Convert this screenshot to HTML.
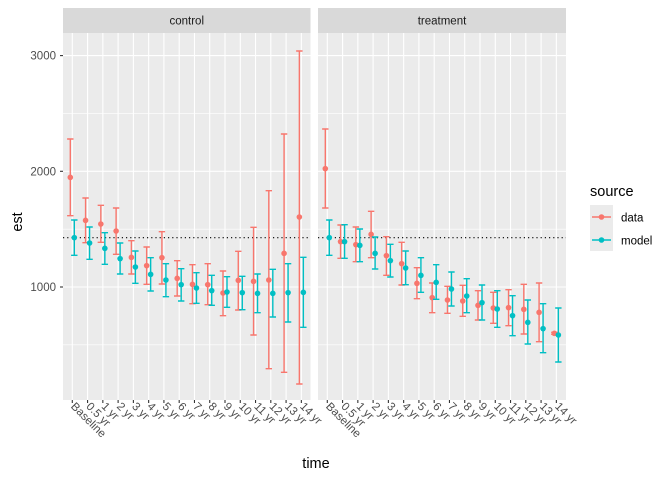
<!DOCTYPE html>
<html><head><meta charset="utf-8"><style>
body{margin:0;background:#fff}
svg text{font-family:"Liberation Sans",sans-serif}
</style></head><body>
<svg id="s" width="672" height="480" xmlns="http://www.w3.org/2000/svg"></svg>
<script>
const s=document.getElementById('s');let h='';
const Y=z=>120+z/3;
const cats=['Baseline','0.5 yr','1 yr','2 yr','3 yr','4 yr','5 yr','6 yr','7 yr','8 yr','9 yr','10 yr','11 yr','12 yr','13 yr','14 yr'];
const panels=[
 {x0:63,x1:310.5,t0:72.3,name:'control',
  d:[[172,57,287],[301,234,368],[312,256,367],[333,264,403],[412,362,462],[437,381,493],[413,335,492],[475,422,528],[493,434,551],[494,431,554],[519,453,587],[481,394,570],[484,322,645],[480,212,746],[400,42,757],[291,-207,792]],
  m:[[353,300,406],[369,321,418],[385,338,433],[416,369,462],[441,393,490],[463,413,513],[480,431,530],[494,446,543],[504,458,550],[512,466,556],[516,470,562],[518,469,569],[520,462,578],[520,448,591],[518,431,606],[517,412,622]]},
 {x0:318,x1:566,t0:327.3,name:'treatment',
  d:[[146,27,264],[365,315,415],[374,321,425],[343,274,413],[407,350,466],[431,367,495],[490,443,536],[533,489,578],[540,499,580],[543,496,589],[556,512,600],[564,517,610],[563,509,617],[568,493,642],[577,489,665],[640,637,643]],
  m:[[353,300,406],[365,314,415],[376,327,425],[400,351,447],[422,373,471],[444,393,494],[466,413,517],[487,434,538],[507,456,558],[528,476,578],[548,495,600],[567,512,622],[587,527,647],[607,540,672],[626,551,698],[645,564,726]]}
];
const sp=15.27;
const yv=v=>287-(v-1000)*0.1157;
panels.forEach(p=>{
 h+=`<rect x="${p.x0}" y="8" width="${p.x1-p.x0}" height="25" fill="#D9D9D9"/>`;
 h+=`<text x="${(p.x0+p.x1)/2}" y="24.5" font-size="11.5" fill="#1a1a1a" text-anchor="middle">${p.name}</text>`;
 h+=`<rect x="${p.x0}" y="33" width="${p.x1-p.x0}" height="367" fill="#EBEBEB"/>`;
 [500,1500,2500].forEach(v=>h+=`<line x1="${p.x0}" x2="${p.x1}" y1="${yv(v)}" y2="${yv(v)}" stroke="#fff" stroke-width="0.6"/>`);
 [1000,2000,3000].forEach(v=>h+=`<line x1="${p.x0}" x2="${p.x1}" y1="${yv(v)}" y2="${yv(v)}" stroke="#fff" stroke-width="1.1"/>`);
 for(let i=0;i<16;i++){const x=p.t0+i*sp;
  h+=`<line x1="${x}" x2="${x}" y1="33" y2="400" stroke="#fff" stroke-width="1.1"/>`;
  h+=`<line x1="${x}" x2="${x}" y1="400" y2="403" stroke="#333" stroke-width="1.1"/>`;
  h+=`<text transform="translate(${x-2},${407}) rotate(45)" font-size="11.5" fill="#4d4d4d">${cats[i]}</text>`;}
 h+=`<line x1="${p.x0}" x2="${p.x1}" y1="237.7" y2="237.7" stroke="#000" stroke-width="1.1" stroke-dasharray="1.2,3"/>`;
 [[p.d,'#F8766D',-2],[p.m,'#00BFC4',2]].forEach(([arr,c,o])=>{
  arr.forEach((r,i)=>{const x=p.t0+i*sp+o;const a=Y(r[1]),b=Y(r[2]);
   h+=`<path d="M${x-3.2} ${a}H${x+3.2}M${x} ${a}V${b}M${x-3.2} ${b}H${x+3.2}" stroke="${c}" stroke-width="1.4" fill="none"/>`;
   h+=`<circle cx="${x}" cy="${Y(r[0])}" r="2.8" fill="${c}"/>`;});
 });
});
[[1000,'1000'],[2000,'2000'],[3000,'3000']].forEach(([v,t])=>{
 h+=`<line x1="60" x2="63" y1="${yv(v)}" y2="${yv(v)}" stroke="#333" stroke-width="1.1"/>`;
 h+=`<text x="56" y="${yv(v)+4}" font-size="11.5" fill="#4d4d4d" text-anchor="end">${t}</text>`;});
h+=`<text transform="translate(22,222) rotate(-90)" font-size="14.5" fill="#000" text-anchor="middle">est</text>`;
h+=`<text x="316" y="468" font-size="14.5" fill="#000" text-anchor="middle">time</text>`;
h+=`<text x="590" y="196" font-size="14.5" fill="#000">source</text>`;
h+=`<rect x="590" y="205" width="23" height="46" fill="#EBEBEB"/>`;
h+=`<line x1="592" x2="611" y1="217" y2="217" stroke="#F8766D" stroke-width="1.4"/><circle cx="601.5" cy="217" r="2.8" fill="#F8766D"/>`;
h+=`<line x1="592" x2="611" y1="240" y2="240" stroke="#00BFC4" stroke-width="1.4"/><circle cx="601.5" cy="240" r="2.8" fill="#00BFC4"/>`;
h+=`<text x="621" y="221.5" font-size="11.5" fill="#000">data</text>`;
h+=`<text x="621" y="244.5" font-size="11.5" fill="#000">model</text>`;
s.innerHTML=h;
</script>
</body></html>
